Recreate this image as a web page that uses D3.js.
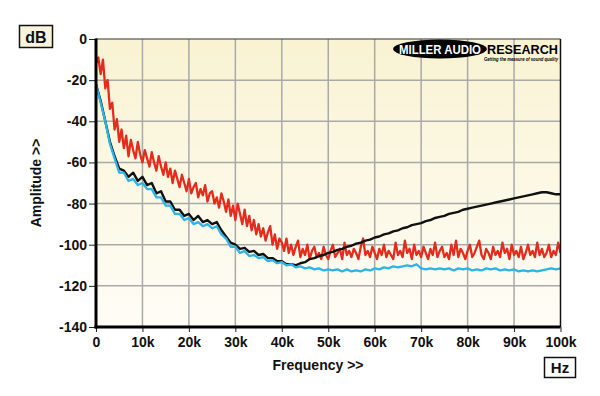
<!DOCTYPE html>
<html><head><meta charset="utf-8">
<script src="https://cdn.jsdelivr.net/npm/d3@7"></script>
<style>
html,body{margin:0;padding:0;background:#fff;}
svg{display:block;font-family:"Liberation Sans",Arial,sans-serif;}
</style></head>
<body><svg id="c" width="600" height="396"></svg>
<script>
// ---- data ----
const xTicks = [0,10000,20000,30000,40000,50000,60000,70000,80000,90000,100000];
const xTickLabels = ["0","10k","20k","30k","40k","50k","60k","70k","80k","90k","100k"];
const yTicks = [0,-20,-40,-60,-80,-100,-120,-140];
const yTickLabels = ["0","-20","-40","-60","-80","-100","-120","-140"];
const redStepHz = 500;   // red trace sampled every 0.5 kHz
const redDb = [
 -12,-9,-17,-10,-24,-20,-34,-31,-44,-39,
 -50,-44,-53,-47,-57,-49,-54,-58,-50,-56,
 -60,-54,-58,-62,-55,-60,-64,-57,-62,-66,
 -60,-67,-63,-70,-64,-68,-72,-66,-70,-74,
 -68,-75,-72,-70,-77,-73,-76,-71,-79,-75,
 -74,-80,-77,-82,-75,-79,-84,-78,-86,-81,
 -88,-80,-85,-90,-83,-91,-86,-93,-88,-95,
 -90,-96,-92,-98,-94,-91,-100,-95,-102,-97,
 -99,-103,-97,-104,-100,-105,-101,-98,-106,-102,
 -105,-100,-107,-103,-101,-106,-104,-107,-101,-105,
 -107,-103,-100,-106,-104,-102,-107,-99,-105,-103,
 -106,-102,-104,-107,-101,-97,-105,-103,-106,-101,
 -104,-107,-102,-105,-100,-106,-103,-105,-107,-99,
 -105,-103,-106,-98,-104,-102,-107,-100,-105,-103,
 -106,-101,-104,-107,-102,-105,-99,-106,-103,-101,
 -106,-104,-107,-100,-105,-98,-106,-102,-104,-107,
 -103,-100,-106,-104,-101,-98,-105,-107,-102,-104,
 -107,-101,-105,-103,-106,-99,-104,-102,-107,-100,
 -105,-103,-106,-101,-107,-104,-100,-105,-103,-106,
 -99,-105,-102,-106,-104,-100,-106,-103,-105,-99,
 -104
];
const traceStepHz = 1000; // black & cyan traces sampled every 1 kHz
const blackDb = [
 -22,-30,-40,-50,-57,-63,-64,-67,-65,-69,
 -67,-71,-70,-75,-74,-79,-79,-83,-83,-86,
 -85,-88,-86,-89,-88,-90,-89,-93,-96,-99,
 -100,-102,-101.5,-103.5,-103,-105,-104.5,-106.5,-106.5,-108,
 -108,-109.5,-109.5,-110,-109,-108.5,-107,-106.5,-105.5,-105,
 -104,-103.5,-102.5,-102,-101,-100.5,-99.5,-99,-98,-97.5,
 -96.5,-96,-95,-94.5,-93.5,-93,-92,-91.5,-90.5,-90,
 -89.5,-88.5,-88,-87,-86.5,-86,-85,-84.5,-84,-83,
 -82.5,-82,-81.5,-81,-80.5,-80,-79.5,-79,-78.5,-78,
 -77.5,-77,-76.5,-76,-75.5,-75,-74.5,-74.5,-75,-75.5,
 -75.5
];
const cyanDb = [
 -22,-31,-40,-51,-58,-65,-65,-69,-68,-71,
 -70,-73,-73,-77,-77,-81,-81,-85,-85,-88,
 -87,-90,-89,-91,-90,-92,-91,-95,-97,-101,
 -101,-104,-103,-105.5,-105,-106.5,-106,-108,-107.5,-109,
 -108.5,-110,-109.5,-111,-110.5,-111.5,-111,-112,-111.5,-112.5,
 -112,-112.5,-112,-113,-112,-113,-112.5,-113,-112,-112.5,
 -111.5,-112,-111,-111.5,-110.5,-111,-110.5,-110,-110.5,-109.5,
 -111.5,-112,-111.5,-112,-111.5,-112,-111.5,-112.5,-111.5,-112,
 -111.5,-112.5,-112,-112.5,-111.5,-112,-111.5,-112.5,-112,-112.5,
 -112,-113,-112.5,-113,-112.5,-113,-112.5,-112,-111.5,-112,
 -111.5
];

// ---- chart ----
const svg = d3.select("#c");
const x = d3.scaleLinear().domain([0,100000]).range([96,560.5]);
const y = d3.scaleLinear().domain([-140,0]).range([327,39]);
const font = '"Liberation Sans",Arial,sans-serif';

const defs = svg.append("defs");
const g = defs.append("linearGradient").attr("id","bg").attr("x1",0).attr("y1",0).attr("x2",0).attr("y2",1);
g.append("stop").attr("offset","0%").attr("stop-color","#f9f3d2");
g.append("stop").attr("offset","100%").attr("stop-color","#fefdf6");
defs.append("clipPath").attr("id","clip").append("rect")
  .attr("x",x(0)).attr("y",y(0)).attr("width",x(100000)-x(0)).attr("height",y(-140)-y(0));

svg.append("rect").attr("x",x(0)).attr("y",y(0)).attr("width",x(100000)-x(0)).attr("height",y(-140)-y(0))
  .attr("fill","url(#bg)");

// grid
svg.append("g").selectAll("line").data(xTicks.slice(1,-1)).join("line")
  .attr("x1",d=>x(d)).attr("x2",d=>x(d)).attr("y1",y(0)).attr("y2",y(-140))
  .attr("stroke","#a9a9a9").attr("stroke-width",1.5);
svg.append("g").selectAll("line").data(yTicks.slice(1,-1)).join("line")
  .attr("y1",d=>y(d)).attr("y2",d=>y(d)).attr("x1",x(0)).attr("x2",x(100000))
  .attr("stroke","#a9a9a9").attr("stroke-width",1.5);

// traces
const plot = svg.append("g").attr("clip-path","url(#clip)");
const mk = step => d3.line().x((d,i)=>x(i*step)).y(d=>y(d));
plot.append("path").datum(redDb).attr("d",mk(redStepHz))
  .attr("fill","none").attr("stroke","#e52b1c").attr("stroke-width",2.3).attr("stroke-linejoin","round");
plot.append("path").datum(blackDb).attr("d",mk(traceStepHz))
  .attr("fill","none").attr("stroke","#111").attr("stroke-width",2.4).attr("stroke-linejoin","round");
plot.append("path").datum(cyanDb).attr("d",mk(traceStepHz))
  .attr("fill","none").attr("stroke","#2db4e6").attr("stroke-width",2.3).attr("stroke-linejoin","round");

// borders
svg.append("line").attr("x1",x(0)).attr("x2",x(100000)).attr("y1",y(0)).attr("y2",y(0)).attr("stroke","#333").attr("stroke-width",1);
svg.append("line").attr("x1",x(100000)).attr("x2",x(100000)).attr("y1",y(0)).attr("y2",y(-140)).attr("stroke","#111").attr("stroke-width",1.5);

// axes
const ax = svg.append("g").attr("transform",`translate(0,${y(-140)})`)
  .call(d3.axisBottom(x).tickValues(xTicks).tickFormat((d,i)=>xTickLabels[i]).tickSize(5).tickPadding(5));
const ay = svg.append("g").attr("transform",`translate(${x(0)},0)`)
  .call(d3.axisLeft(y).tickValues(yTicks).tickFormat((d,i)=>yTickLabels[i]).tickSize(7).tickPadding(2));
[ax,ay].forEach(a=>{
  a.select(".domain").remove();
  a.selectAll(".tick line").attr("stroke","#222").attr("stroke-width",1);
  a.selectAll("text").attr("font-family",font).attr("font-size",14).attr("font-weight","bold").attr("fill","#111");
});
svg.append("line").attr("x1",x(0)).attr("x2",x(0)).attr("y1",y(0)-0.5).attr("y2",y(-140)+1.5).attr("stroke","#000").attr("stroke-width",3);
svg.append("line").attr("x1",x(0)-1.5).attr("x2",x(100000)).attr("y1",y(-140)).attr("y2",y(-140)).attr("stroke","#000").attr("stroke-width",3);

// axis titles
svg.append("text").attr("x",318).attr("y",370).attr("text-anchor","middle")
  .attr("font-family",font).attr("font-size",14).attr("font-weight","bold").attr("fill","#111").text("Frequency >>");
svg.append("text").attr("transform","translate(41,183) rotate(-90)").attr("text-anchor","middle")
  .attr("font-family",font).attr("font-size",14).attr("font-weight","bold").attr("fill","#111").text("Amplitude >>");

// unit boxes
svg.append("rect").attr("x",19.5).attr("y",25.5).attr("width",33).attr("height",22).attr("fill","#f8f4dc").attr("stroke","#111").attr("stroke-width",1.5);
svg.append("text").attr("x",36).attr("y",42.5).attr("text-anchor","middle").attr("font-family",font).attr("font-size",16).attr("font-weight","bold").attr("fill","#111").text("dB");
svg.append("rect").attr("x",544.5).attr("y",357.5).attr("width",31).attr("height",20).attr("fill","#fff").attr("stroke","#111").attr("stroke-width",1.5);
svg.append("text").attr("x",560).attr("y",373).attr("text-anchor","middle").attr("font-family",font).attr("font-size",15).attr("font-weight","bold").attr("fill","#111").text("Hz");

// logo
svg.append("ellipse").attr("cx",440).attr("cy",49).attr("rx",47).attr("ry",9.5).attr("fill","#000");
svg.append("text").attr("x",440).attr("y",53.5).attr("text-anchor","middle").attr("font-family",font).attr("font-size",12.5).attr("font-weight","900")
  .attr("fill","#fff").attr("textLength",82).attr("lengthAdjust","spacingAndGlyphs").text("MILLER AUDIO");
svg.append("text").attr("x",487).attr("y",54).attr("font-family",font).attr("font-size",13.5).attr("font-weight","900")
  .attr("fill","#000").attr("textLength",71).attr("lengthAdjust","spacingAndGlyphs").text("RESEARCH");
svg.append("text").attr("x",484).attr("y",61).attr("font-family",font).attr("font-size",5).attr("font-weight","bold").attr("font-style","italic")
  .attr("fill","#000").attr("textLength",74).attr("lengthAdjust","spacingAndGlyphs").text("Getting the measure of sound quality");
</script></body></html>
